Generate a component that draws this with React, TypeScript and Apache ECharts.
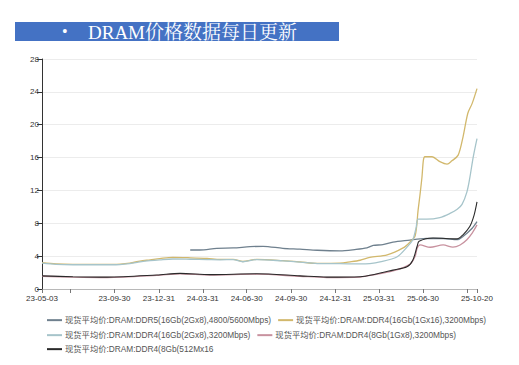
import React, { useEffect, useRef } from "react";
import * as echarts from "echarts";

const TITLE = "DRAM价格数据每日更新";

const SERIES_NAMES = [
  "现货平均价:DRAM:DDR5(16Gb(2Gx8),4800/5600Mbps)",
  "现货平均价:DRAM:DDR4(16Gb(1Gx16),3200Mbps)",
  "现货平均价:DRAM:DDR4(16Gb(2Gx8),3200Mbps)",
  "现货平均价:DRAM:DDR4(8Gb(1Gx8),3200Mbps)",
  "现货平均价:DRAM:DDR4(8Gb(512Mx16",
];

const COLORS = ["#6f808e", "#d2b86c", "#a6c4ca", "#c8929f", "#2a2a2a"];

const LABEL_DATES = [
  "23-05-03", "23-09-30", "23-12-31", "24-03-31", "24-06-30",
  "24-09-30", "24-12-31", "25-03-31", "25-06-30", "25-10-20",
];
const TICK_DATES = [...LABEL_DATES, "23-06-30", "25-09-30"];

const Y_TICKS = [0, 4, 8, 12, 16, 20, 24, 28];

const DDR5: [string, number][] = [
  ["24-03-05", 4.75], ["24-03-25", 4.75], ["24-04-29", 4.95], ["24-06-02", 5.0],
  ["24-07-07", 5.15], ["24-08-03", 5.2], ["24-09-13", 4.95], ["24-10-18", 4.85],
  ["24-11-23", 4.72], ["25-01-09", 4.65], ["25-02-09", 4.8], ["25-03-06", 5.0],
  ["25-03-19", 5.3], ["25-04-08", 5.4], ["25-04-29", 5.7], ["25-06-03", 5.95],
  ["25-06-24", 6.1], ["25-07-08", 6.15], ["25-08-11", 6.15], ["25-09-09", 6.0],
  ["25-09-21", 6.4], ["25-10-10", 7.4], ["25-10-20", 8.2],
];

const DDR4_16_1G: [string, number][] = [
  ["23-05-03", 3.2], ["23-06-01", 3.05], ["23-07-06", 3.0], ["23-08-31", 3.0],
  ["23-09-27", 3.0], ["23-11-01", 3.15], ["23-11-22", 3.4], ["23-12-13", 3.55],
  ["24-01-02", 3.7], ["24-01-29", 3.85], ["24-03-05", 3.8], ["24-04-09", 3.72],
  ["24-05-06", 3.6], ["24-06-02", 3.6], ["24-06-22", 3.35], ["24-07-21", 3.6],
  ["24-09-13", 3.45], ["24-10-18", 3.3], ["24-11-23", 3.12], ["25-01-09", 3.15],
  ["25-01-30", 3.3], ["25-02-20", 3.5], ["25-03-12", 3.85], ["25-04-17", 4.15],
  ["25-05-20", 5.0], ["25-06-03", 5.7], ["25-06-14", 6.5], ["25-06-20", 9.6],
  ["25-06-24", 11.5], ["25-06-28", 13.6], ["25-07-01", 15.7], ["25-07-04", 16.1],
  ["25-07-19", 16.1], ["25-08-04", 15.5], ["25-08-19", 15.2], ["25-08-29", 15.6],
  ["25-09-11", 16.3], ["25-09-21", 18.5], ["25-10-01", 21.4], ["25-10-10", 22.6],
  ["25-10-20", 24.4],
];

const DDR4_16_2G: [string, number][] = [
  ["23-05-03", 3.15], ["23-06-01", 3.0], ["23-07-06", 2.95], ["23-08-31", 2.95],
  ["23-09-27", 2.95], ["23-11-01", 3.1], ["23-11-22", 3.3], ["23-12-13", 3.45],
  ["24-01-02", 3.55], ["24-01-29", 3.65], ["24-03-05", 3.62], ["24-04-09", 3.58],
  ["24-05-06", 3.55], ["24-06-02", 3.58], ["24-06-22", 3.32], ["24-07-21", 3.58],
  ["24-09-13", 3.42], ["24-10-18", 3.28], ["24-11-23", 3.1], ["25-01-09", 3.08],
  ["25-02-20", 3.05], ["25-03-12", 3.1], ["25-04-02", 3.3], ["25-05-07", 3.9],
  ["25-05-28", 5.1], ["25-06-09", 6.0], ["25-06-16", 7.5], ["25-06-20", 8.5],
  ["25-07-08", 8.5], ["25-08-04", 8.7], ["25-08-25", 9.2], ["25-09-09", 9.7],
  ["25-09-19", 10.3], ["25-09-29", 11.8], ["25-10-05", 13.5], ["25-10-12", 16.0],
  ["25-10-20", 18.3],
];

const DDR4_8_1G: [string, number][] = [
  ["23-05-03", 1.55], ["23-07-06", 1.45], ["23-09-15", 1.4], ["23-12-27", 1.65],
  ["24-02-13", 1.85], ["24-04-15", 1.7], ["24-07-21", 1.8], ["24-10-18", 1.55],
  ["24-12-13", 1.4], ["25-02-20", 1.45], ["25-03-12", 1.65], ["25-04-29", 2.2],
  ["25-06-03", 3.0], ["25-06-14", 4.0], ["25-06-18", 4.95], ["25-06-24", 5.36],
  ["25-07-15", 5.08], ["25-08-11", 5.36], ["25-08-31", 5.1], ["25-09-15", 5.36],
  ["25-09-29", 6.0], ["25-10-10", 6.8], ["25-10-20", 7.8],
];

const DDR4_8_512M: [string, number][] = [
  ["23-05-03", 1.6], ["23-07-06", 1.5], ["23-09-15", 1.45], ["23-12-27", 1.7],
  ["24-02-13", 1.9], ["24-04-15", 1.75], ["24-07-21", 1.85], ["24-10-18", 1.6],
  ["24-12-13", 1.45], ["25-02-20", 1.5], ["25-03-23", 1.8], ["25-04-29", 2.3],
  ["25-05-28", 2.7], ["25-06-09", 3.5], ["25-06-18", 5.2], ["25-06-22", 5.8],
  ["25-07-21", 6.2], ["25-09-09", 6.1], ["25-09-21", 6.6], ["25-10-05", 7.6],
  ["25-10-14", 9.0], ["25-10-20", 10.6],
];

const SERIES_DATA = [DDR5, DDR4_16_1G, DDR4_16_2G, DDR4_8_1G, DDR4_8_512M];

function buildCategories(): string[] {
  const out: string[] = [];
  const start = Date.UTC(2023, 4, 3);
  const end = Date.UTC(2025, 9, 20);
  for (let t = start; t <= end; t += 86400000) {
    const d = new Date(t);
    const yy = String(d.getUTCFullYear() % 100).padStart(2, "0");
    const mm = String(d.getUTCMonth() + 1).padStart(2, "0");
    const dd = String(d.getUTCDate()).padStart(2, "0");
    out.push(`${yy}-${mm}-${dd}`);
  }
  return out;
}

export default function App() {
  const ref = useRef<HTMLDivElement>(null);
  useEffect(() => {
    if (!ref.current) return;
    const chart = echarts.init(ref.current, null, { renderer: "svg" });
    const cats = buildCategories();
    const sans = "Liberation Sans, Arial, Noto Sans CJK SC, sans-serif";
    const legendCommon = {
      left: 42,
      itemWidth: 15,
      itemHeight: 2,
      itemGap: 7,
      icon: "rect",
      textStyle: { fontSize: 8.3, color: "#555", fontFamily: sans, padding: [0, 0, 0, -2] },
    };
    chart.setOption({
      animation: false,
      backgroundColor: "#ffffff",
      color: COLORS,
      grid: { left: 42, right: 42, top: 59, bottom: 76 },
      graphic: [
        { type: "rect", shape: { x: 15, y: 22, width: 324, height: 19 }, style: { fill: "#4472c4" } },
        {
          type: "text", x: 62, y: 31.5,
          style: { text: "•", fill: "#ffffff", fontSize: 16, fontFamily: "Liberation Serif, serif", verticalAlign: "middle" },
        },
        {
          type: "text", x: 88, y: 32,
          style: {
            text: TITLE, fill: "#ffffff", fontSize: 19,
            fontFamily: "Liberation Serif, Noto Serif CJK SC, Noto Sans CJK SC, serif",
            verticalAlign: "middle",
          },
        },
      ],
      legend: [
        { ...legendCommon, top: 311, data: [SERIES_NAMES[0], SERIES_NAMES[1]] },
        { ...legendCommon, top: 326, data: [SERIES_NAMES[2], SERIES_NAMES[3]] },
        { ...legendCommon, top: 340, data: [SERIES_NAMES[4]] },
      ],
      xAxis: {
        type: "category",
        data: cats,
        boundaryGap: false,
        axisLine: { lineStyle: { color: "#b8b8b8", width: 1 } },
        axisTick: {
          length: 4,
          lineStyle: { color: "#777" },
          interval: (_i: number, v: string) => TICK_DATES.includes(v),
        },
        axisLabel: {
          fontSize: 8,
          color: "#333",
          fontFamily: sans,
          margin: 5,
          interval: (_i: number, v: string) => LABEL_DATES.includes(v),
        },
        splitLine: { show: false },
      },
      yAxis: {
        type: "value",
        min: Y_TICKS[0],
        max: Y_TICKS[Y_TICKS.length - 1],
        interval: 4,
        axisLine: { show: true, lineStyle: { color: "#333", width: 1 } },
        axisTick: { show: true, length: 5, lineStyle: { color: "#333" } },
        axisLabel: { fontSize: 8, color: "#333", fontFamily: sans, margin: 3 },
        splitLine: { show: true, lineStyle: { color: "#ececec", width: 1 } },
      },
      series: SERIES_NAMES.map((name, i) => ({
        name,
        type: "line",
        data: SERIES_DATA[i],
        symbol: "none",
        smooth: 0.3,
        lineStyle: { width: i === 4 ? 1.1 : 1.3, color: COLORS[i] },
        itemStyle: { color: COLORS[i] },
        z: i === 4 ? 5 : 2,
      })),
    });
    return () => chart.dispose();
  }, []);
  return <div ref={ref} style={{ width: 519, height: 365, position: "absolute", left: 0, top: 0 }} />;
}
